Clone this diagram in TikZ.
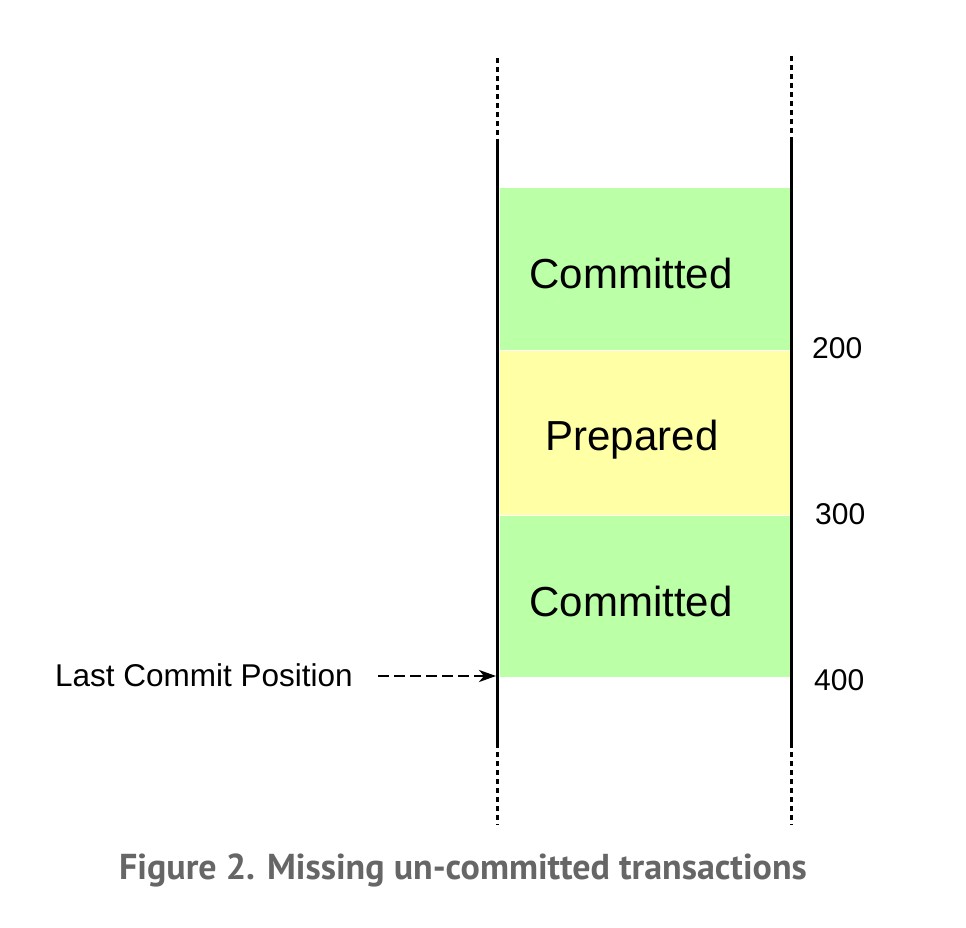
\documentclass[tikz,border=0pt]{standalone}
\usepackage{fontspec}
\setmainfont{Liberation Sans}
\newfontfamily\capfont{PT Sans}
\usetikzlibrary{arrows.meta}
\definecolor{cgreen}{RGB}{187,255,166}
\definecolor{cyellow}{RGB}{255,255,166}
\definecolor{capgray}{RGB}{102,102,102}
\tikzset{
  blockbox/.style={draw=white, line width=1pt, minimum width=291pt, minimum height=163pt, inner sep=0pt, anchor=north west},
  bigtext/.style={anchor=base, font=\fontsize{42}{50}\selectfont},
  numtext/.style={anchor=base west, inner sep=0pt, font=\fontsize{30}{36}\selectfont},
  solidline/.style={line width=3pt},
  dotline/.style={line width=3pt, dash pattern=on 5pt off 4pt},
  ptrarrow/.style={line width=2.6pt, dash pattern=on 11pt off 5pt, -{Stealth[length=17pt,width=12pt,inset=5pt]}}
}
\begin{document}
\begin{tikzpicture}[x=1pt,y=-1pt]
\useasboundingbox (0,0) rectangle (966,928);
% blocks
\node[blockbox, fill=cgreen] (c1) at (499,187) {};
\node[blockbox, fill=cyellow, minimum height=165pt] (p) at (499,350) {};
\node[blockbox, fill=cgreen, minimum height=162pt] (c2) at (499,515) {};
\node[bigtext] (t1) at (631,288) {Committed};
\node[bigtext] (t2) at (632,450) {Prepared};
\node[bigtext] (t3) at (631,616) {Committed};
% vertical lines
\coordinate (La) at (497,58);
\coordinate (Lb) at (497,139);
\coordinate (Lc) at (497,743);
\coordinate (Ld) at (497,825);
\coordinate (Ra) at (791,56);
\coordinate (Rb) at (791,138);
\coordinate (Rc) at (791,743);
\coordinate (Rd) at (791,825);
\draw[dotline] (La) -- (Lb);
\draw[solidline] (Lb) -- (Lc);
\draw[dotline] (Lc) -- (Ld);
\draw[dotline] (Ra) -- (Rb);
\draw[solidline] (Rb) -- (Rc);
\draw[dotline] (Rc) -- (Rd);
% numbers
\node[numtext] (n200) at (812,358) {200};
\node[numtext] (n300) at (815,524) {300};
\node[numtext] (n400) at (814,690) {400};
% last commit position
\node[anchor=base west, inner sep=0pt, font=\fontsize{31.5}{36}\selectfont] (lcp) at (55,686) {Last Commit Position};
\coordinate (lcpend) at (496,676);
\draw[ptrarrow] ([xshift=25pt]lcp.east |- lcpend) -- (lcpend);
% caption
\node[anchor=base, inner sep=0pt, text=capgray, font=\capfont\bfseries\fontsize{36}{40}\selectfont] (cap) at (463,879) {Figure 2. Missing un-committed transactions};
\end{tikzpicture}
\end{document}
